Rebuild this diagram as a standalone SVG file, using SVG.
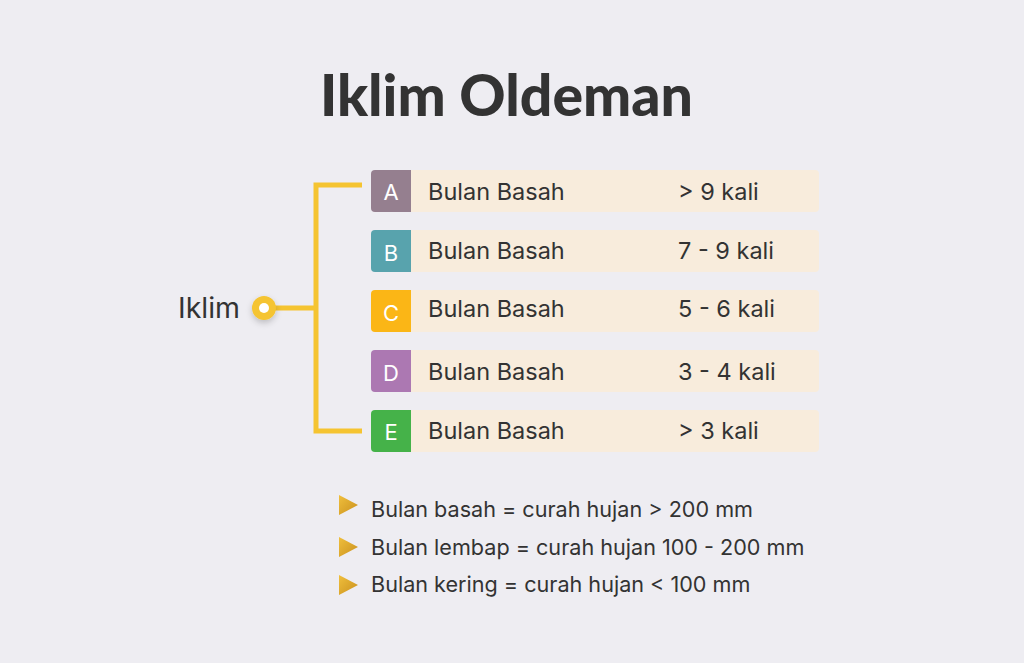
<svg xmlns="http://www.w3.org/2000/svg" width="1024" height="663" viewBox="0 0 1024 663">
<defs>
<filter id="sh" x="-10%" y="-30%" width="120%" height="180%"><feDropShadow dx="0" dy="4" stdDeviation="4" flood-color="#000" flood-opacity="0.10"/></filter>
<filter id="dsh" x="-50%" y="-50%" width="200%" height="200%"><feDropShadow dx="0" dy="3" stdDeviation="3" flood-color="#000" flood-opacity="0.2"/></filter>
<linearGradient id="tg" x1="0" y1="0" x2="1" y2="1"><stop offset="0" stop-color="#f0bf3c"/><stop offset="1" stop-color="#c9901e"/></linearGradient>
<clipPath id="rc"><rect x="0" y="0" width="448" height="42" rx="4"/></clipPath>
</defs>
<style>
.t{font-family:Inter,Roboto,"Liberation Sans",sans-serif;fill:#333333}
.row{font-size:23.5px}
.lt{font-family:Inter,Roboto,"Liberation Sans",sans-serif;font-size:22px;fill:#ffffff;text-anchor:middle}
.bar{fill:#f8ecdc}
.bl{font-size:21.6px}
.conn{fill:none;stroke:#f5c431;stroke-width:5}
</style>
<rect width="1024" height="663" fill="#eeedf2"/>
<text x="320" y="116" textLength="373" lengthAdjust="spacingAndGlyphs" font-family="Lato,'Liberation Sans',sans-serif" font-weight="900" font-size="57" fill="#333333">Iklim Oldeman</text>
<g id="connectors">
<path class="conn" d="M362 185 H316 V431 H362"/>
<path class="conn" d="M270 308 H316"/>
</g>
<g id="iklim">
<text class="t" x="178" y="318" font-size="28.5">Iklim</text>
<circle cx="264" cy="308" r="12" fill="#f5c431" filter="url(#dsh)"/>
<circle cx="264" cy="308" r="5" fill="#ffffff"/>
</g>
<g id="rowA" transform="translate(371,170)">
<g clip-path="url(#rc)" filter="url(#sh)"><rect class="bar" width="448" height="42"/><rect width="40" height="42" fill="#957f8f"/></g>
<text class="lt" x="20" y="30">A</text>
<text class="t row" x="57" y="30">Bulan Basah</text>
<text class="t row" x="307" y="30">&gt; 9 kali</text>
</g>
<g id="rowB" transform="translate(371,230)">
<g clip-path="url(#rc)" filter="url(#sh)"><rect class="bar" width="448" height="42"/><rect width="40" height="42" fill="#58a3ad"/></g>
<text class="lt" x="20" y="31">B</text>
<text class="t row" x="57" y="29">Bulan Basah</text>
<text class="t row" x="307" y="29">7 - 9 kali</text>
</g>
<g id="rowC" transform="translate(371,290)">
<g clip-path="url(#rc)" filter="url(#sh)"><rect class="bar" width="448" height="42"/><rect width="40" height="42" fill="#fbb614"/></g>
<text class="lt" x="20" y="31">C</text>
<text class="t row" x="57" y="27">Bulan Basah</text>
<text class="t row" x="307" y="27">5 - 6 kali</text>
</g>
<g id="rowD" transform="translate(371,350)">
<g clip-path="url(#rc)" filter="url(#sh)"><rect class="bar" width="448" height="42"/><rect width="40" height="42" fill="#ac78b2"/></g>
<text class="lt" x="20" y="31">D</text>
<text class="t row" x="57" y="30">Bulan Basah</text>
<text class="t row" x="307" y="30">3 - 4 kali</text>
</g>
<g id="rowE" transform="translate(371,410)">
<g clip-path="url(#rc)" filter="url(#sh)"><rect class="bar" width="448" height="42"/><rect width="40" height="42" fill="#44b24a"/></g>
<text class="lt" x="20" y="30">E</text>
<text class="t row" x="57" y="29">Bulan Basah</text>
<text class="t row" x="307" y="29">&gt; 3 kali</text>
</g>
<g id="legend">
<polygon points="339,495 358,505 339,515" fill="url(#tg)"/>
<text class="t bl" x="371" y="517">Bulan basah = curah hujan &gt; 200 mm</text>
<polygon points="339,537 358,547 339,557" fill="url(#tg)"/>
<text class="t bl" x="371" y="555">Bulan lembap = curah hujan 100 - 200 mm</text>
<polygon points="339,575 358,585 339,595" fill="url(#tg)"/>
<text class="t bl" x="371" y="592">Bulan kering = curah hujan &lt; 100 mm</text>
</g>
</svg>
